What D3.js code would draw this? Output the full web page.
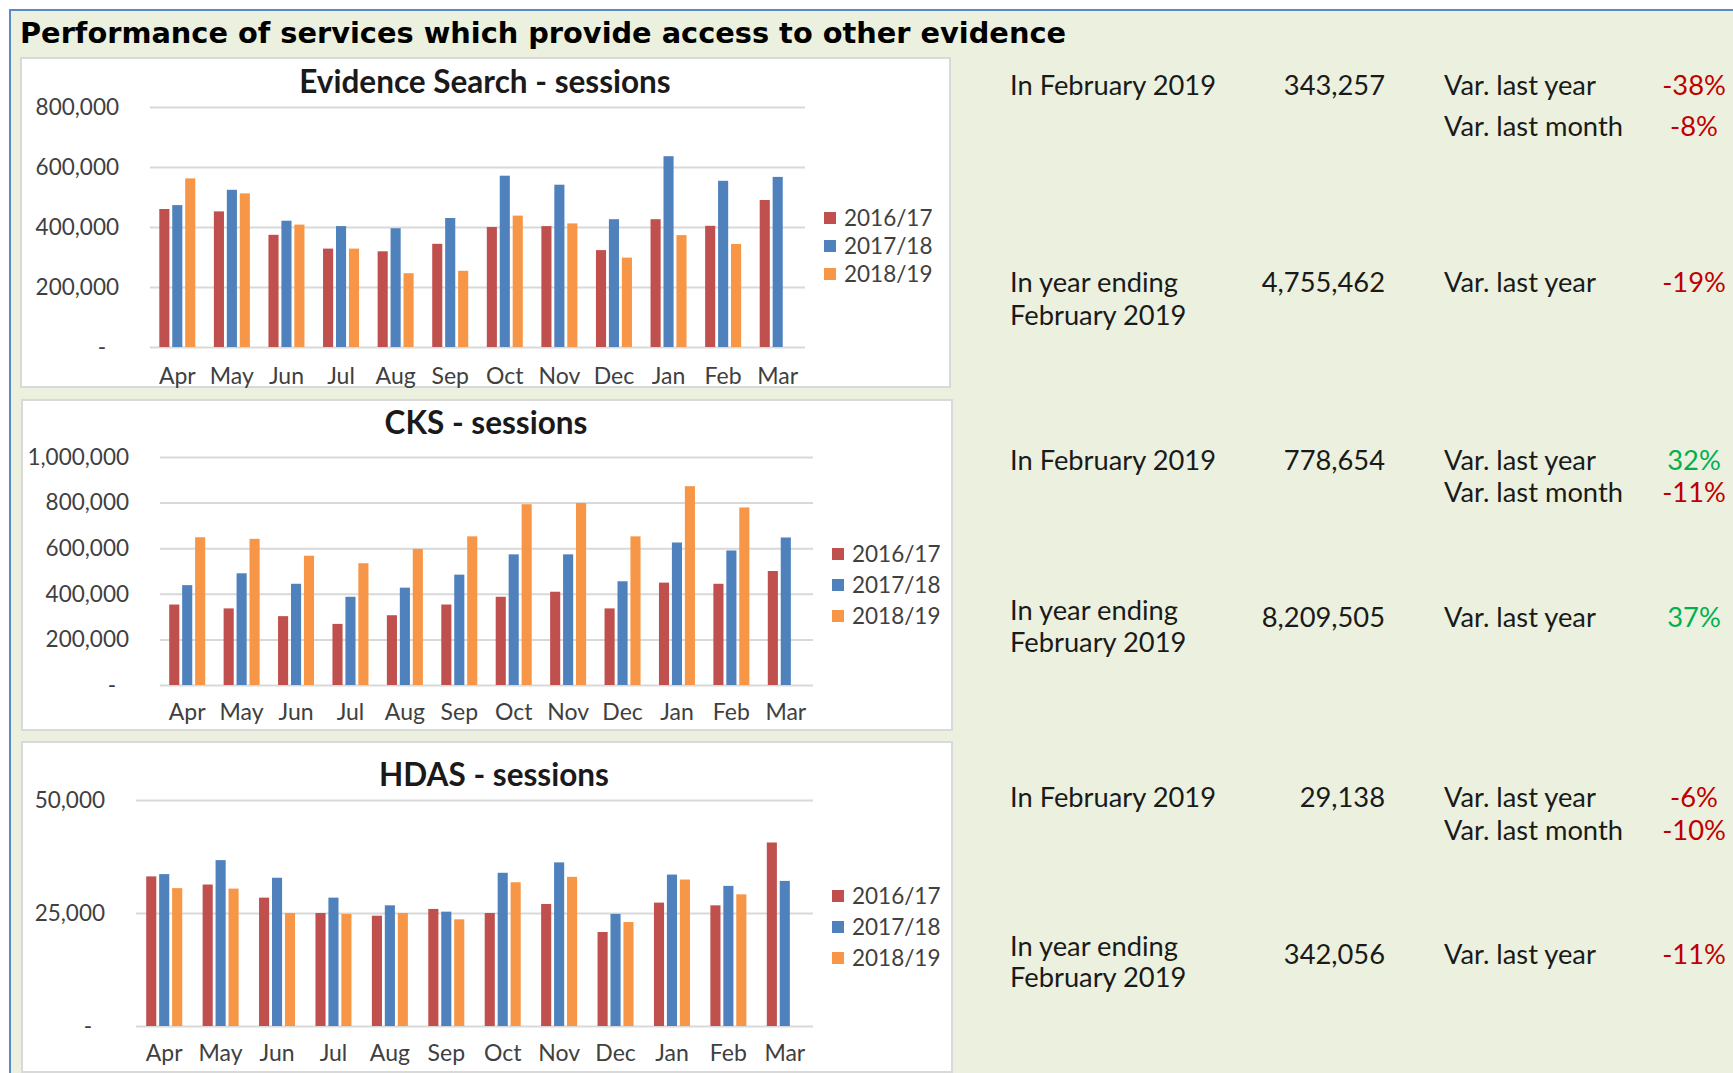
<!DOCTYPE html>
<html>
<head>
<meta charset="utf-8">
<script src="https://cdn.jsdelivr.net/npm/d3@7"></script>
<style>
  html, body { margin: 0; padding: 0; background: #ffffff; }
  svg { display: block; }
  text { font-family: Lato, "Open Sans", sans-serif; }
</style>
</head>
<body>
<svg id="chart" width="1733" height="1073"></svg>
<script>
// ---------------- DATA ----------------
const months = ["Apr","May","Jun","Jul","Aug","Sep","Oct","Nov","Dec","Jan","Feb","Mar"];
const seriesNames = ["2016/17","2017/18","2018/19"];

const esSessions1617 = [460000,452000,374000,328000,319000,344000,400000,403000,323000,426000,404000,490000];
const esSessions1718 = [473000,524000,421000,403000,396000,430000,571000,541000,426000,636000,554000,567000];
const esSessions1819 = [562000,512000,408000,328000,246000,254000,438000,412000,298000,373000,343257,null];
const esTicks = [0,200000,400000,600000,800000];

const cksSessions1617 = [353000,336000,302000,268000,306000,353000,387000,409000,336000,449000,444000,500000];
const cksSessions1718 = [438000,490000,444000,387000,427000,484000,573000,573000,455000,625000,590000,647000];
const cksSessions1819 = [648000,641000,567000,534000,597000,652000,793000,798000,652000,872000,778654,null];
const cksTicks = [0,200000,400000,600000,800000,1000000];

const hdasSessions1617 = [33100,31300,28400,25000,24400,25900,25000,27000,20800,27300,26700,40600];
const hdasSessions1718 = [33600,36700,32800,28400,26700,25300,33900,36200,24800,33500,31000,32100];
const hdasSessions1819 = [30500,30400,25000,24800,25000,23600,31800,33000,23000,32400,29138,null];
const hdasTicks = [0,25000,50000];

const chartTitles = ["Evidence Search - sessions","CKS - sessions","HDAS - sessions"];
const pageTitle = "Performance of services which provide access to other evidence";

const kpiMonthLabel = "In February 2019";
const kpiYearLabel = ["In year ending","February 2019"];
const kpiMonthValue = ["343,257","778,654","29,138"];
const kpiYearValue = ["4,755,462","8,209,505","342,056"];
const kpiVarLastYearMonth = ["-38%","32%","-6%"];
const kpiVarLastMonth = ["-8%","-11%","-10%"];
const kpiVarLastYearYear = ["-19%","37%","-11%"];

// ---------------- STYLE ----------------
const colors = ["#C0504D","#4F81BD","#F79646"];
const negColor = "#C00000", posColor = "#00B050";
const textDark = "#1a1a1a", axisText = "#404040", gridColor = "#D9D9D9";

const svg = d3.select("#chart");

// page background + frame
svg.append("rect").attr("x",10).attr("y",10).attr("width",1760).attr("height",1100)
  .attr("fill","#EBF1DE").attr("stroke","#5B89C8").attr("stroke-width",2);

svg.append("text").attr("x",20).attr("y",33).attr("dy","0.35em")
  .style("font-family","'DejaVu Sans', Verdana, sans-serif").style("font-weight","bold")
  .style("font-size","28px").attr("textLength",1046).attr("lengthAdjust","spacingAndGlyphs")
  .attr("fill","#000").text(pageTitle);

// ---------------- CHARTS ----------------
const charts = [
  { data:[esSessions1617,esSessions1718,esSessions1819], ticks:esTicks, title:chartTitles[0],
    box:{x:21,y:58,w:929,h:329}, px0:150, px1:805, pyTop:107, pyBase:347,
    titleX:485, titleY:82, xLabelY:376, legX:824, legY:[218,246,274] },
  { data:[cksSessions1617,cksSessions1718,cksSessions1819], ticks:cksTicks, title:chartTitles[1],
    box:{x:22,y:400,w:930,h:330}, px0:160, px1:813, pyTop:457, pyBase:685,
    titleX:486, titleY:423, xLabelY:712, legX:832, legY:[554,585,616] },
  { data:[hdasSessions1617,hdasSessions1718,hdasSessions1819], ticks:hdasTicks, title:chartTitles[2],
    box:{x:22,y:742,w:930,h:330}, px0:136, px1:813, pyTop:800, pyBase:1026,
    titleX:494, titleY:775, xLabelY:1053, legX:832, legY:[896,927,958] }
];

const fmt = d3.format(",");

charts.forEach(c => {
  const g = svg.append("g");
  g.append("rect").attr("x",c.box.x).attr("y",c.box.y).attr("width",c.box.w).attr("height",c.box.h)
    .attr("fill","#ffffff").attr("stroke",gridColor).attr("stroke-width",2);

  g.append("text").attr("x",c.titleX).attr("y",c.titleY).attr("dy","0.35em")
    .attr("text-anchor","middle").style("font-weight","bold").style("font-size","31.5px")
    .attr("fill",textDark).text(c.title);

  const y = d3.scaleLinear().domain([0, d3.max(c.ticks)]).range([c.pyBase, c.pyTop]);
  const x0 = d3.scaleBand().domain(months).range([c.px0, c.px1]).padding(0);
  const x1 = d3.scaleBand().domain(seriesNames).range([-18,18]).paddingInner(0.22);

  const yAxis = d3.axisLeft(y).tickValues(c.ticks)
    .tickSize(-(c.px1 - c.px0)).tickPadding(31)
    .tickFormat(d => d === 0 ? "-" : fmt(d));
  const ya = g.append("g").attr("transform",`translate(${c.px0},0)`).call(yAxis);
  ya.select(".domain").remove();
  ya.selectAll(".tick line").attr("stroke",gridColor).attr("stroke-width",2);
  ya.selectAll(".tick text").style("font-size","22.5px").style("font-family","Lato, sans-serif")
    .attr("fill",axisText)
    .attr("dx", d => d === 0 ? -13 : 0);

  const xAxis = d3.axisBottom(x0).tickSize(0).tickPadding(0);
  const xa = g.append("g").attr("transform",`translate(0,${c.pyBase})`).call(xAxis);
  xa.select(".domain").remove();
  xa.selectAll(".tick text").attr("y", c.xLabelY - c.pyBase).attr("dy","0.35em")
    .style("font-size","23px").style("font-family","Lato, sans-serif").attr("fill",axisText);

  const rows = [];
  c.data.forEach((arr, si) => arr.forEach((v, mi) => {
    if (v != null) rows.push({ s: seriesNames[si], si, m: months[mi], v });
  }));
  g.append("g").selectAll("rect").data(rows).join("rect")
    .attr("x", d => x0(d.m) + x0.bandwidth()/2 + x1(d.s))
    .attr("width", x1.bandwidth())
    .attr("y", d => y(d.v))
    .attr("height", d => c.pyBase - y(d.v))
    .attr("fill", d => colors[d.si]);

  const leg = g.append("g");
  seriesNames.forEach((s, i) => {
    leg.append("rect").attr("x", c.legX).attr("y", c.legY[i] - 6).attr("width", 12).attr("height", 12)
      .attr("fill", colors[i]);
    leg.append("text").attr("x", c.legX + 20).attr("y", c.legY[i]).attr("dy","0.35em")
      .style("font-size","22.5px").attr("fill",axisText).text(s);
  });
});

// ---------------- KPI PANEL ----------------
const kpiRowY = [
  { m1:85, m2:126, y1:282, y2:315, yv:282 },
  { m1:460, m2:492, y1:610, y2:642, yv:617 },
  { m1:797, m2:830, y1:946, y2:977, yv:954 }
];
const colLabel = 1010, colValue = 1385, colVar = 1444, colPct = 1694;
const kg = svg.append("g").style("font-size","27.3px");
function kt(x, y, txt, anchor, fill) {
  kg.append("text").attr("x", x).attr("y", y).attr("dy","0.35em")
    .attr("text-anchor", anchor).attr("fill", fill).text(txt);
}
const pctColor = p => p.trim().startsWith("-") ? negColor : posColor;
kpiRowY.forEach((r, i) => {
  kt(colLabel, r.m1, kpiMonthLabel, "start", textDark);
  kt(colValue, r.m1, kpiMonthValue[i], "end", textDark);
  kt(colVar, r.m1, "Var. last year", "start", textDark);
  kt(colPct, r.m1, kpiVarLastYearMonth[i], "middle", pctColor(kpiVarLastYearMonth[i]));
  kt(colVar, r.m2, "Var. last month", "start", textDark);
  kt(colPct, r.m2, kpiVarLastMonth[i], "middle", pctColor(kpiVarLastMonth[i]));
  kt(colLabel, r.y1, kpiYearLabel[0], "start", textDark);
  kt(colLabel, r.y2, kpiYearLabel[1], "start", textDark);
  kt(colValue, r.yv, kpiYearValue[i], "end", textDark);
  kt(colVar, r.yv, "Var. last year", "start", textDark);
  kt(colPct, r.yv, kpiVarLastYearYear[i], "middle", pctColor(kpiVarLastYearYear[i]));
});
</script>
</body>
</html>
